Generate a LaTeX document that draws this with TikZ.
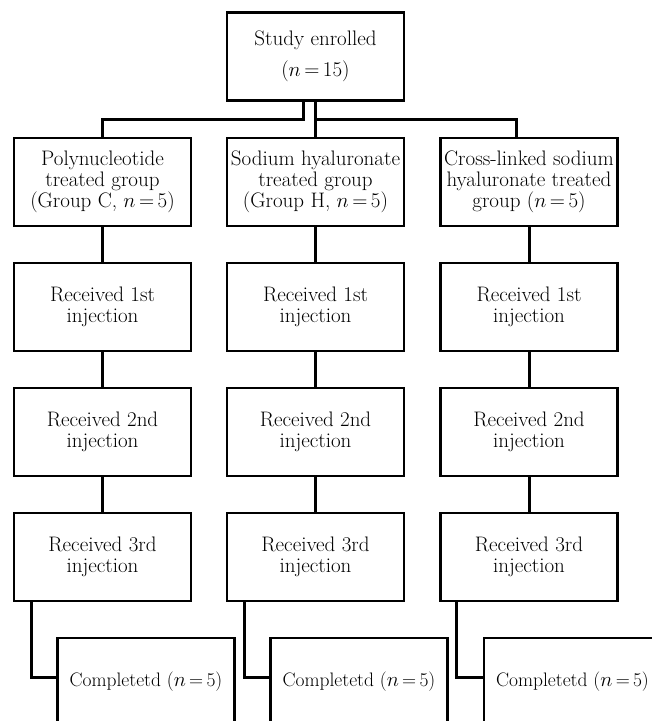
\documentclass[tikz,border=0pt]{standalone}
\usepackage{tikz}
\usetikzlibrary{positioning,calc}
\tikzset{
  stagebox/.style={draw=black, line width=2.4pt, fill=white, align=center, minimum width=177pt, minimum height=88pt, inner sep=0pt},
  donebox/.style={stagebox, font=\fontsize{19.5}{21}\selectfont},
  link/.style={draw=black, line width=3pt}
}

\begin{document}
\begin{tikzpicture}[x=1pt, y=-1pt, node distance=34.6pt, font=\fontsize{21}{21}\selectfont]
    \path[use as bounding box] (0,0) rectangle (652,721);
    \clip (0,0) rectangle (652,721);

    \node[stagebox] (enrolled) at (315.5,56.5) {Study enrolled\\[10pt]($n$\,=\,15)};

    \node[stagebox] (polyC) at (102.5,182) {Polynucleotide\\treated group\\(Group C, $n$\,=\,5)};
    \node[stagebox] (sodH) at (315.5,182) {Sodium hyaluronate\\treated group\\(Group H, $n$\,=\,5)};
    \node[stagebox] (crossX) at (529,182) {Cross-linked sodium\\hyaluronate treated\\group ($n$\,=\,5)};

    \node[stagebox, below=of polyC] (firstC) {Received 1st\\injection};
    \node[stagebox, below=of sodH] (firstH) {Received 1st\\injection};
    \node[stagebox, below=of crossX] (firstX) {Received 1st\\injection};

    \node[stagebox, below=of firstC] (secondC) {Received 2nd\\injection};
    \node[stagebox, below=of firstH] (secondH) {Received 2nd\\injection};
    \node[stagebox, below=of firstX] (secondX) {Received 2nd\\injection};

    \node[stagebox, below=of secondC] (thirdC) {Received 3rd\\injection};
    \node[stagebox, below=of secondH] (thirdH) {Received 3rd\\injection};
    \node[stagebox, below=of secondX] (thirdX) {Received 3rd\\injection};

    \node[donebox, below=of thirdC, xshift=43.5pt] (doneC) {Completetd ($n$\,=\,5)};
    \node[donebox, below=of thirdH, xshift=43.5pt] (doneH) {Completetd ($n$\,=\,5)};
    \node[donebox, below=of thirdX, xshift=43.5pt] (doneX) {Completetd ($n$\,=\,5)};

    % split under the enrolment box
    \coordinate (split) at ($(enrolled.south)+(0,18)$);
    \draw[link] ([xshift=-12.5pt]enrolled.south) -- ++(0,18) -| (polyC.north);
    \draw[link] (enrolled) -- (sodH);
    \draw[link] (split) -| ([xshift=-13pt]crossX.north);

    \draw[link] (polyC) -- (firstC);
    \draw[link] (sodH) -- (firstH);
    \draw[link] (crossX) -- (firstX);
    \draw[link] (firstC) -- (secondC);
    \draw[link] (firstH) -- (secondH);
    \draw[link] (firstX) -- (secondX);
    \draw[link] (secondC) -- (thirdC);
    \draw[link] (secondH) -- (thirdH);
    \draw[link] (secondX) -- (thirdX);

    \draw[link] ([xshift=19pt]thirdC.south west) |- ([yshift=5pt]doneC.west);
    \draw[link] ([xshift=19pt]thirdH.south west) |- ([yshift=5pt]doneH.west);
    \draw[link] ([xshift=17pt]thirdX.south west) |- ([yshift=5pt]doneX.west);
\end{tikzpicture}
\end{document}
